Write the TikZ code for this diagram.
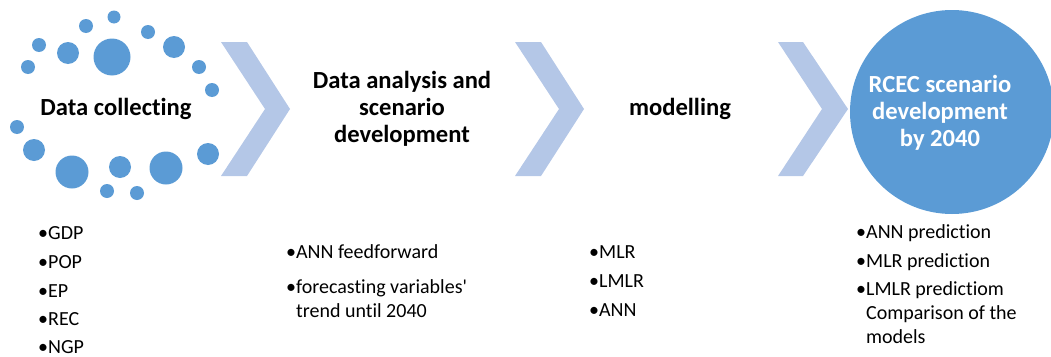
\documentclass[tikz,border=0pt]{standalone}
\usepackage{fontspec}
\setmainfont{Carlito}[Ligatures=NoCommon]
\definecolor{dotblue}{HTML}{5B9BD5}
\definecolor{chevblue}{HTML}{B4C7E7}
\begin{document}
\begin{tikzpicture}[x=1pt,y=-1pt,
  dot/.style={fill=dotblue},
  chev/.style={fill=chevblue},
  title/.style={font=\fontsize{24.6}{27}\selectfont\bfseries, align=center, inner sep=0pt},
  item/.style={font=\fontsize{20}{23}\selectfont, align=left, inner sep=0pt, anchor=base west}]
\useasboundingbox (0,0) rectangle (1051,356);
% dots
\foreach \x/\y/\r in {114/17/6.5, 86/26/7, 39/45/7, 68/53/11, 112/57/18.5, 148/32/7, 174/47/11,
  28/67/7, 199/67/7, 212/90/7, 17/127/7, 34/150/11, 72/172/16.5, 120/167/11, 166/168/16.5,
  208/154/11, 107/191/7, 137/193/7}
  \fill[dot] (\x,\y) circle (\r);
% chevrons
\fill[chev] (221,42) -- (247,42) -- (290,109) -- (247,176) -- (221,176) -- (265,109) -- cycle;
\fill[chev] (515,42) -- (541,42) -- (584,109) -- (541,176) -- (515,176) -- (559,109) -- cycle;
\fill[chev] (778,42) -- (803,42) -- (848,109) -- (803,176) -- (778,176) -- (822,109) -- cycle;
% circle
\node[circle, fill=dotblue, minimum size=204pt, inner sep=0pt] (goal) at (952,112) {};
% titles
\node[title] (t1) at (116,109) {Data collecting};
\node[title] (t2) at (402,109) {Data analysis and\\scenario\\development};
\node[title] (t3) at (680,109) {modelling};
\node[title, text=white] (t4) at (940,113) {RCEC scenario\\development\\by 2040};
% lists
\node[item] (a1) at (38,239) {•GDP};
\node[item] (a2) at (38,268) {•POP};
\node[item] (a3) at (38,297) {•EP};
\node[item] (a4) at (38,325) {•REC};
\node[item] (a5) at (38,353) {•NGP};
\node[item] (b1) at (286,258) {•ANN feedforward};
\node[item, font=\fontsize{20}{24}\selectfont] (b2) at (286,317) {•forecasting variables\textquotesingle\\\phantom{•}trend until 2040};
\node[item] (c1) at (589,258) {•MLR};
\node[item] (c2) at (589,287) {•LMLR};
\node[item] (c3) at (589,316) {•ANN};
\node[item] (d1) at (856,238) {•ANN prediction};
\node[item] (d2) at (856,267) {•MLR prediction};
\node[item, font=\fontsize{20}{24}\selectfont] (d3) at (856,343) {•LMLR predictiom\\\phantom{•}Comparison of the\\\phantom{•}models};
\end{tikzpicture}
\end{document}
